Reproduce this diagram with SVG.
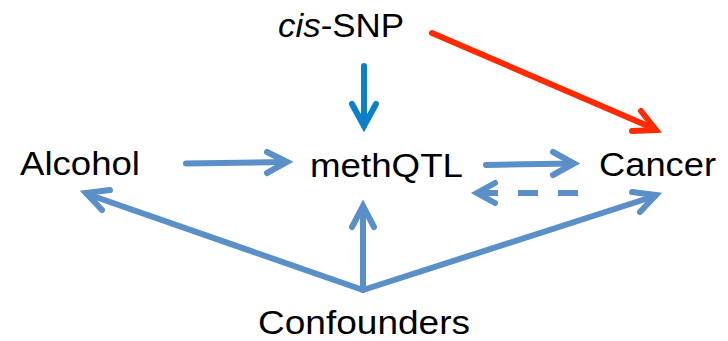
<svg xmlns="http://www.w3.org/2000/svg" width="728" height="341" viewBox="0 0 728 341">
  <style>
    .label { font-family: "Liberation Sans", Arial, sans-serif; font-size: 34px; fill: #000; }
    .edge { fill: none; stroke-width: 6; stroke-linecap: round; stroke-linejoin: miter; }
    .blue { stroke: #5B8FC8; }
    .snp { stroke: #0A80C8; }
    .red { stroke: #FF2A00; }
    .dash { stroke-dasharray: 20 20; stroke-linecap: butt; }
  </style>
  <rect width="728" height="341" fill="#fff"/>

  <g id="connectors">
    <!-- cis-SNP -> methQTL -->
    <g id="snp-meth">
      <path class="edge snp" d="M364 66 L364 126"/>
      <path class="edge snp" d="M352 104 L364 126 L376 104"/>
    </g>
    <!-- cis-SNP -> Cancer -->
    <g id="snp-cancer">
      <path class="edge red" d="M432 33 L655 129"/>
      <path class="edge red" d="M641 111 L656 130 L632 131"/>
    </g>
    <!-- Alcohol -> methQTL -->
    <g id="alcohol-meth">
      <path class="edge blue" d="M186 163.5 L286 162"/>
      <path class="edge blue" d="M267 152 L287 162 L267 173"/>
    </g>
    <!-- methQTL -> Cancer -->
    <g id="meth-cancer">
      <path class="edge blue" d="M486 165 L573 163.5"/>
      <path class="edge blue" d="M553 152 L574 163.5 L553 175"/>
    </g>
    <!-- Cancer -> methQTL (reverse, dashed) -->
    <g id="cancer-meth">
      <path class="edge blue dash" d="M578 193 L478 193"/>
      <path class="edge blue" d="M495 183 L477 193 L495 203"/>
    </g>
    <!-- Confounders -> Alcohol / methQTL / Cancer -->
    <g id="conf-alcohol">
      <path class="edge blue" d="M363 290 L87 194"/>
      <path class="edge blue" d="M110 190 L86 193 L102 210"/>
    </g>
    <g id="conf-meth">
      <path class="edge blue" d="M363 290 L363 207"/>
      <path class="edge blue" d="M352 227 L363 206 L374 227"/>
    </g>
    <g id="conf-cancer">
      <path class="edge blue" d="M363 290 L655 196"/>
      <path class="edge blue" d="M632 192 L656 195 L640 212"/>
    </g>
  </g>

  <g id="node-snp">
    <text class="label" x="278" y="37" textLength="126" lengthAdjust="spacingAndGlyphs"><tspan font-style="italic">cis</tspan>-SNP</text>
  </g>
  <g id="node-alcohol">
    <text class="label" x="20" y="175" textLength="120" lengthAdjust="spacingAndGlyphs">Alcohol</text>
  </g>
  <g id="node-methqtl">
    <text class="label" x="310" y="177" textLength="153" lengthAdjust="spacingAndGlyphs">methQTL</text>
  </g>
  <g id="node-cancer">
    <text class="label" x="599" y="176" textLength="117" lengthAdjust="spacingAndGlyphs">Cancer</text>
  </g>
  <g id="node-confounders">
    <text class="label" x="258" y="334" textLength="212" lengthAdjust="spacingAndGlyphs">Confounders</text>
  </g>
</svg>
